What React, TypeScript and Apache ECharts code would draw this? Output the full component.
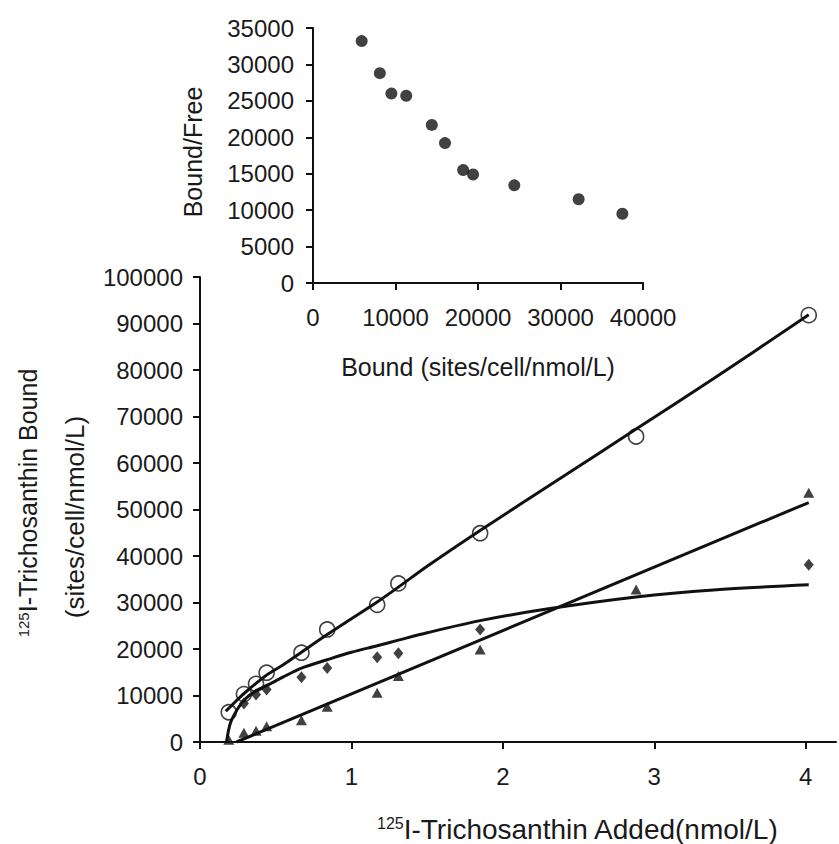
import React, { useEffect, useRef } from "react";
import * as echarts from "echarts";

// ---- Main chart data (125I-Trichosanthin added, nmol/L) ----
const addedX = [0.19, 0.29, 0.37, 0.44, 0.67, 0.84, 1.17, 1.31, 1.85, 2.88, 4.02];
const circleY = [6400, 10300, 12500, 14900, 19200, 24200, 29500, 34100, 44900, 65700, 91800];
const triangleY = [500, 2000, 2400, 3400, 4700, 7600, 10600, 14200, 19900, 32800, 53600];
const diamondX = [0.29, 0.37, 0.44, 0.67, 0.84, 1.17, 1.31, 1.85, 4.02];
const diamondY = [8300, 10200, 11300, 13900, 15900, 18200, 19100, 24200, 38100];

// fitted curves
const circleFitX = [0.17, 0.25, 0.3, 0.37, 0.45, 0.55, 0.67, 0.84, 1.0, 1.17, 1.31, 1.5, 1.85, 2.38, 2.88, 3.39, 4.02];
const circleFitY = [6600, 9200, 10700, 12600, 14600, 16600, 19300, 23100, 26500, 30100, 33300, 37800, 45500, 56700, 67300, 78100, 91900];
const diamondFitX = [0.175, 0.2, 0.25, 0.3, 0.37, 0.45, 0.55, 0.67, 0.84, 1.0, 1.17, 1.31, 1.5, 1.85, 2.29, 2.88, 3.39, 4.02];
const diamondFitY = [0, 4000, 7200, 9300, 11000, 12300, 14000, 15900, 17700, 19300, 20700, 21900, 23500, 26100, 28600, 31200, 32700, 33800];
const triangleFitX = [0.24, 4.02];
const triangleFitY = [0, 51500];

const mainXTicks = [0, 1, 2, 3, 4];

// ---- Inset (Scatchard) data ----
const boundX = [5900, 8100, 9500, 11300, 14400, 16000, 18200, 19400, 24400, 32200, 37500];
const boundFreeY = [33200, 28800, 26000, 25700, 21700, 19200, 15500, 14900, 13400, 11500, 9500];

const FONT = "Liberation Sans, Arial, Helvetica, sans-serif";
const INK = "#111";

const zip = (xs: number[], ys: number[]) => xs.map((x, i) => [x, ys[i]]);

export default function App() {
  const ref = useRef<HTMLDivElement>(null);
  useEffect(() => {
    if (!ref.current) return;
    const chart = echarts.init(ref.current, null, { renderer: "svg" });
    const axisLine = { show: true, lineStyle: { color: INK, width: 2 } };
    const axisLabel = {
      color: "#1a1a1a",
      fontSize: 24,
      fontFamily: FONT,
      formatter: (v: number) => String(v),
    };
    const fitLine = (xs: number[], ys: number[], smooth: number) => ({
      type: "line",
      xAxisIndex: 0,
      yAxisIndex: 0,
      data: zip(xs, ys),
      smooth,
      symbol: "none",
      clip: false,
      lineStyle: { color: INK, width: 3 },
      z: 2,
    });
    chart.setOption({
      animation: false,
      backgroundColor: "#fff",
      grid: [
        { left: 200, right: 3, top: 277, bottom: 102 },
        { left: 313, top: 28, width: 330, height: 255 },
      ],
      xAxis: [
        {
          gridIndex: 0,
          type: "value",
          min: 0,
          max: 4.2,
          interval: 1,
          axisLine,
          axisTick: { show: true, length: 7, inside: false, lineStyle: { color: INK, width: 2 }, customValues: mainXTicks },
          axisLabel: { ...axisLabel, margin: 22, customValues: mainXTicks },
          splitLine: { show: false },
        },
        {
          gridIndex: 1,
          type: "value",
          min: 0,
          max: 40000,
          interval: 10000,
          axisLine,
          axisTick: { show: true, length: 7, lineStyle: { color: INK, width: 2 } },
          axisLabel: { ...axisLabel, margin: 22 },
          splitLine: { show: false },
        },
      ],
      yAxis: [
        {
          gridIndex: 0,
          type: "value",
          min: 0,
          max: 100000,
          interval: 10000,
          axisLine,
          axisTick: { show: true, length: 7, lineStyle: { color: INK, width: 2 } },
          axisLabel: { ...axisLabel, margin: 17 },
          splitLine: { show: false },
        },
        {
          gridIndex: 1,
          type: "value",
          min: 0,
          max: 35000,
          interval: 5000,
          axisLine,
          axisTick: { show: true, length: 7, lineStyle: { color: INK, width: 2 } },
          axisLabel: { ...axisLabel, margin: 19 },
          splitLine: { show: false },
        },
      ],
      series: [
        fitLine(circleFitX, circleFitY, 0.3),
        fitLine(diamondFitX, diamondFitY, 0.3),
        fitLine(triangleFitX, triangleFitY, 0),
        {
          type: "scatter",
          xAxisIndex: 0,
          yAxisIndex: 0,
          data: zip(addedX, circleY),
          symbol: "circle",
          symbolSize: 15,
          clip: false,
          itemStyle: { color: "rgba(255,255,255,0)", borderColor: INK, borderWidth: 1.6 },
          z: 3,
        },
        {
          type: "scatter",
          xAxisIndex: 0,
          yAxisIndex: 0,
          data: zip(diamondX, diamondY),
          symbol: "diamond",
          symbolSize: [10, 12],
          clip: false,
          itemStyle: { color: INK },
          z: 3,
        },
        {
          type: "scatter",
          xAxisIndex: 0,
          yAxisIndex: 0,
          data: zip(addedX, triangleY),
          symbol: "triangle",
          symbolSize: [11, 10],
          clip: false,
          itemStyle: { color: INK },
          z: 3,
        },
        {
          type: "scatter",
          xAxisIndex: 1,
          yAxisIndex: 1,
          data: zip(boundX, boundFreeY),
          symbol: "circle",
          symbolSize: 12,
          itemStyle: { color: INK },
          z: 3,
        },
      ],
      graphic: [
        {
          type: "text",
          x: 28,
          y: 503,
          rotation: Math.PI / 2,
          style: {
            text: "{s|125}I-Trichosanthin Bound",
            fontSize: 25,
            fontFamily: FONT,
            fill: "#1a1a1a",
            align: "center",
            verticalAlign: "middle",
            rich: { s: { fontSize: 15, verticalAlign: "top", fontFamily: FONT, fill: "#1a1a1a" } },
          },
        },
        {
          type: "text",
          x: 75,
          y: 517,
          rotation: Math.PI / 2,
          style: {
            text: "(sites/cell/nmol/L)",
            fontSize: 26,
            fontFamily: FONT,
            fill: "#1a1a1a",
            align: "center",
            verticalAlign: "middle",
          },
        },
        {
          type: "text",
          x: 377,
          y: 829,
          style: {
            text: "{s|125}I-Trichosanthin Added(nmol/L)",
            fontSize: 28,
            fontFamily: FONT,
            fill: "#1a1a1a",
            align: "left",
            verticalAlign: "middle",
            rich: { s: { fontSize: 16, verticalAlign: "top", fontFamily: FONT, fill: "#1a1a1a" } },
          },
        },
        {
          type: "text",
          x: 193,
          y: 152,
          rotation: Math.PI / 2,
          style: {
            text: "Bound/Free",
            fontSize: 25,
            fontFamily: FONT,
            fill: "#1a1a1a",
            align: "center",
            verticalAlign: "middle",
          },
        },
        {
          type: "text",
          x: 478,
          y: 367,
          style: {
            text: "Bound (sites/cell/nmol/L)",
            fontSize: 25,
            fontFamily: FONT,
            fill: "#1a1a1a",
            align: "center",
            verticalAlign: "middle",
          },
        },
      ],
    });
    return () => chart.dispose();
  }, []);
  return (
    <div
      ref={ref}
      style={{ position: "fixed", left: 0, top: 0, width: 839, height: 844, background: "#fff" }}
    />
  );
}
